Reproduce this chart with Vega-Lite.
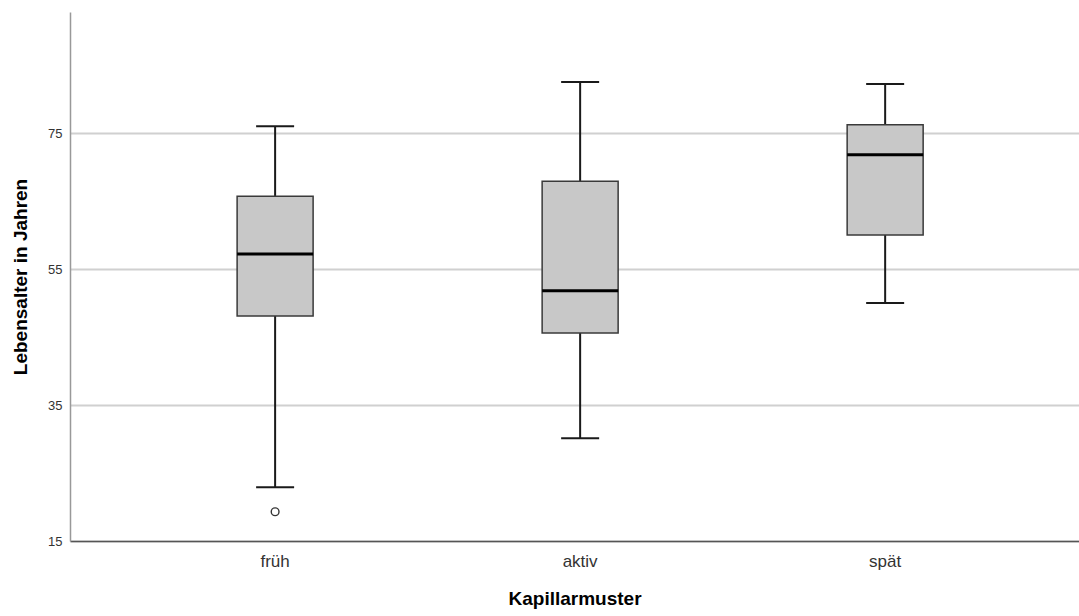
{
  "$schema": "https://vega.github.io/schema/vega-lite/v6.json",
  "autosize": "none",
  "width": 1009,
  "height": 529,
  "padding": {"left": 70, "top": 12, "right": 0, "bottom": 75},
  "background": "white",
  "config": {
    "view": {"stroke": null},
    "font": "Liberation Sans"
  },
  "datasets": {
    "summary": [
      {"Kapillarmuster": "früh", "lower": 22.9, "q1": 48.1, "median": 57.2, "q3": 65.7, "upper": 76.0},
      {"Kapillarmuster": "aktiv", "lower": 30.1, "q1": 45.6, "median": 51.8, "q3": 67.9, "upper": 82.5},
      {"Kapillarmuster": "spät", "lower": 50.0, "q1": 60.0, "median": 71.8, "q3": 76.2, "upper": 82.2}
    ],
    "outliers": [
      {"Kapillarmuster": "früh", "value": 19.3}
    ]
  },
  "encoding": {
    "x": {
      "field": "Kapillarmuster",
      "type": "nominal",
      "sort": ["früh", "aktiv", "spät"],
      "scale": {"paddingInner": 0, "paddingOuter": 0.154, "align": 0.56},
      "axis": {
        "title": "Kapillarmuster",
        "titleFontSize": 19,
        "titleFontWeight": "bold",
        "titleColor": "#000000",
        "titlePadding": 20,
        "labelFontSize": 17,
        "labelColor": "#333333",
        "labelAngle": 0,
        "labelPadding": 12,
        "ticks": false,
        "domainColor": "#555555",
        "domainWidth": 1.5,
        "grid": false
      }
    }
  },
  "layer": [
    {
      "data": {"name": "summary"},
      "mark": {"type": "rule", "color": "#1a1a1a", "strokeWidth": 2},
      "encoding": {
        "y": {
          "field": "lower",
          "type": "quantitative",
          "scale": {"domain": [15, 92.8], "nice": false, "zero": false},
          "axis": {
            "title": "Lebensalter in Jahren",
            "titleFontSize": 19,
            "titleFontWeight": "bold",
            "titleColor": "#000000",
            "titlePadding": 17,
            "values": [15, 35, 55, 75],
            "labelFontSize": 13,
            "labelColor": "#333333",
            "labelPadding": 8,
            "ticks": false,
            "domainColor": "#999999",
            "domainWidth": 1.5,
            "grid": true,
            "gridColor": "#d0d0d0",
            "gridWidth": 2
          }
        },
        "y2": {"field": "upper"}
      }
    },
    {
      "data": {"name": "summary"},
      "mark": {"type": "tick", "color": "#1a1a1a", "opacity": 1, "size": 38, "thickness": 2},
      "encoding": {"y": {"field": "lower", "type": "quantitative"}}
    },
    {
      "data": {"name": "summary"},
      "mark": {"type": "tick", "color": "#1a1a1a", "opacity": 1, "size": 38, "thickness": 2},
      "encoding": {"y": {"field": "upper", "type": "quantitative"}}
    },
    {
      "data": {"name": "summary"},
      "mark": {"type": "bar", "size": 76, "fill": "#c8c8c8", "stroke": "#3a3a3a", "strokeWidth": 1.5, "opacity": 1},
      "encoding": {
        "y": {"field": "q1", "type": "quantitative"},
        "y2": {"field": "q3"}
      }
    },
    {
      "data": {"name": "summary"},
      "mark": {"type": "tick", "color": "#000000", "opacity": 1, "size": 76, "thickness": 3},
      "encoding": {"y": {"field": "median", "type": "quantitative"}}
    },
    {
      "data": {"name": "outliers"},
      "mark": {"type": "point", "shape": "circle", "filled": false, "size": 60, "stroke": "#333333", "strokeWidth": 1.4, "opacity": 1},
      "encoding": {"y": {"field": "value", "type": "quantitative"}}
    }
  ]
}
